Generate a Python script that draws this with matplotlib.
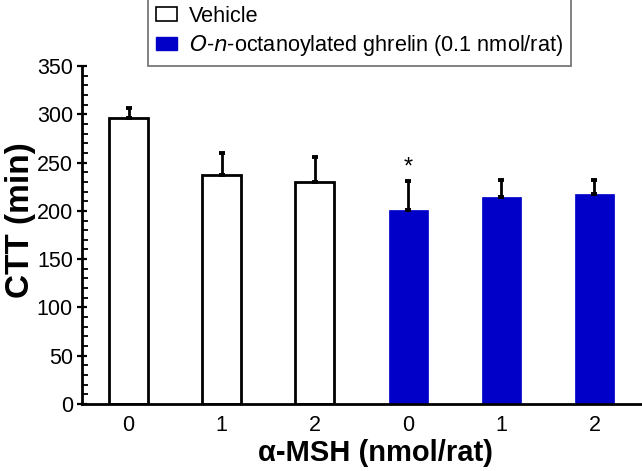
import matplotlib
matplotlib.use("Agg")
import matplotlib.pyplot as plt
from matplotlib.patches import Patch
from matplotlib.ticker import MultipleLocator

plt.rcParams['font.family'] = ['Liberation Sans', 'DejaVu Sans']

tick_labels = ["0", "1", "2", "0", "1", "2"]
vehicle_means = [296, 237, 230]
vehicle_errs = [11, 23, 26]
ghrelin_means = [201, 214, 217]
ghrelin_errs = [30, 18, 15]
blue = "#0000C8"

fig = plt.figure(figsize=(6.42, 4.71), dpi=100)
ax = fig.add_axes([82/642, 1-404/471, 1-82/642-1/642, (404-66)/471])

x_veh = [0, 1, 2]
x_gh = [3, 4, 5]
w = 0.42
ekw = dict(ecolor="black", elinewidth=2.0, capsize=2.2, capthick=2.8)
ax.bar(x_veh, vehicle_means, width=w, color="white", edgecolor="black", linewidth=2.0,
       yerr=[[0]*3, vehicle_errs], error_kw=ekw, zorder=2)
ax.bar(x_gh, ghrelin_means, width=w, color=blue, edgecolor=blue, linewidth=0.5,
       yerr=[[0]*3, ghrelin_errs], error_kw=ekw, zorder=2)
ax.text(3, ghrelin_means[0] + ghrelin_errs[0] + 2, "*", ha="center", va="bottom", fontsize=17)

ax.set_xlim(-0.5, 5.5)
ax.set_ylim(0, 350)
ax.set_xticks(range(6))
ax.set_xticklabels(tick_labels, fontsize=15.5)
ax.tick_params(axis="x", length=0, pad=8)
ax.yaxis.set_major_locator(MultipleLocator(50))
ax.yaxis.set_minor_locator(MultipleLocator(10))
ax.tick_params(axis="y", which="major", direction="inout", length=7, width=1.6, labelsize=15.5, pad=3)
ax.tick_params(axis="y", which="minor", direction="in", length=4, width=1.3)
for s in ["top", "right"]:
    ax.spines[s].set_visible(False)
for s in ["left", "bottom"]:
    ax.spines[s].set_linewidth(2.0)

ax.set_ylabel("CTT (min)", fontsize=24, fontweight="bold")
ax.yaxis.set_label_coords(-0.082, 0.545)
ax.set_xlabel("α-MSH (nmol/rat)", fontsize=21, fontweight="bold")
ax.xaxis.set_label_coords(0.525, -0.105)

handles = [Patch(facecolor="white", edgecolor="black", linewidth=1.2),
           Patch(facecolor=blue, edgecolor=blue)]
labels = ["Vehicle", r"$\it{O}$-$\it{n}$-octanoylated ghrelin (0.1 nmol/rat)"]
leg = fig.legend(handles, labels, loc="upper left", bbox_to_anchor=(148/642, 1.004),
                 fontsize=15.6, frameon=True, fancybox=False, handlelength=1.0, handleheight=0.6,
                 handletextpad=0.55, borderpad=0.35, labelspacing=0.3, borderaxespad=0)
leg.get_frame().set_edgecolor("#555555")
leg.get_frame().set_linewidth(1.3)

fig.savefig("out.png", dpi=100)
